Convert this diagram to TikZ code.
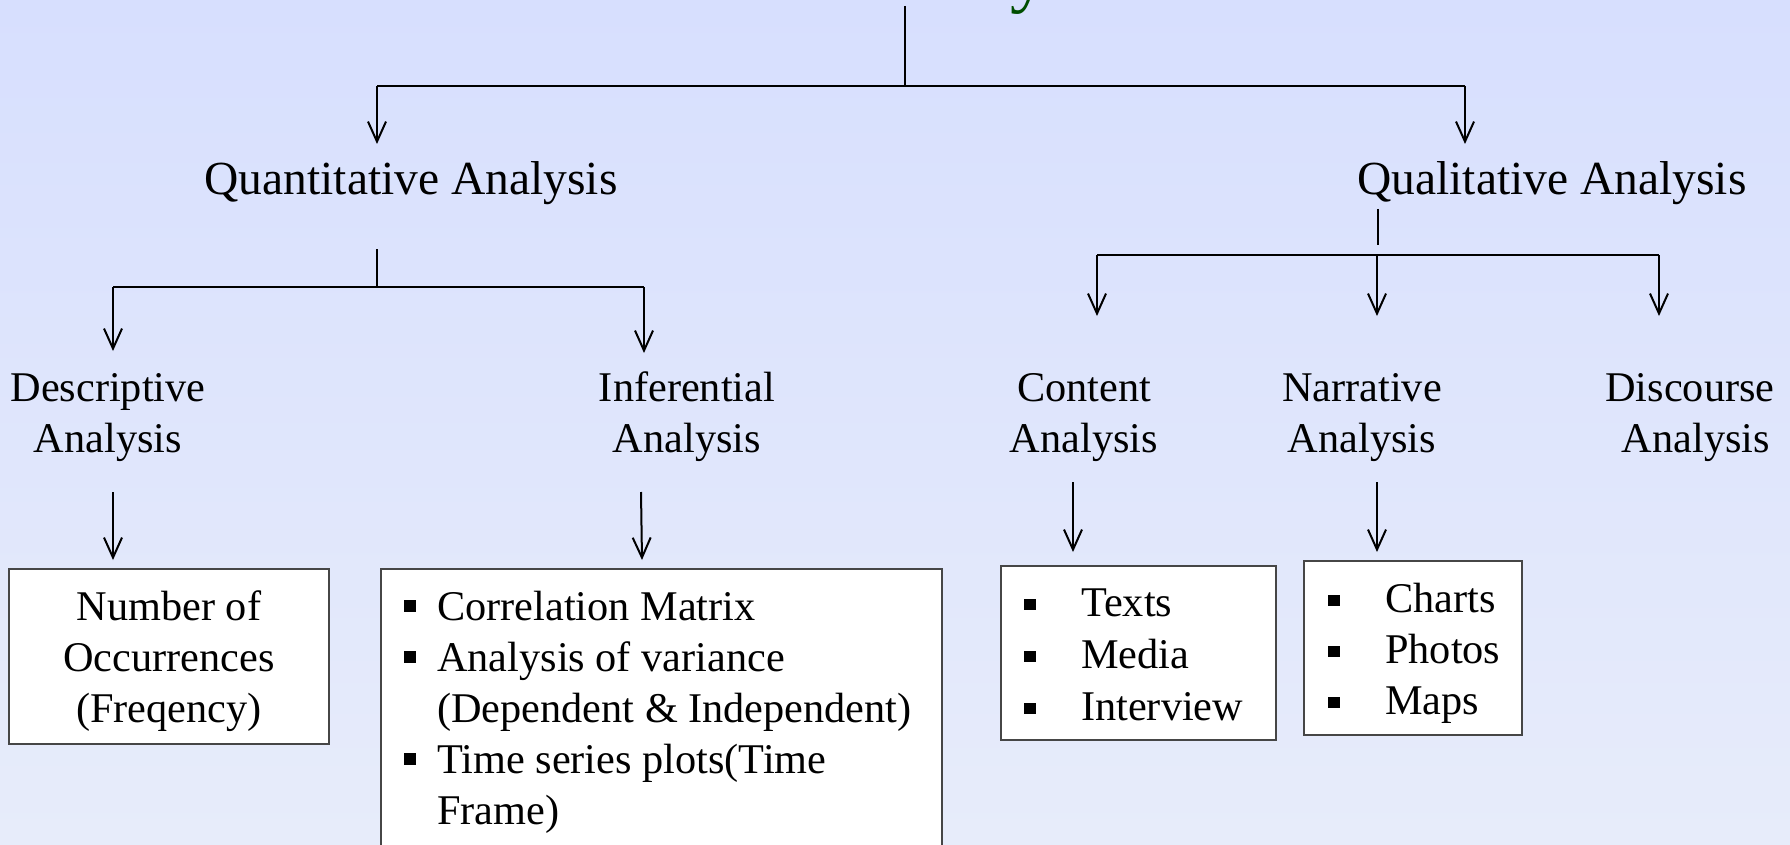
\documentclass[tikz,border=0pt]{standalone}
\usepackage{fontspec}
\setmainfont{Liberation Serif}
\usetikzlibrary{arrows.meta}
\definecolor{bgtop}{RGB}{215,223,254}
\definecolor{bgbot}{RGB}{231,236,250}
\definecolor{ttlgreen}{RGB}{0,78,0}
\definecolor{boxline}{RGB}{70,70,70}
\newcommand{\lbfont}{\fontsize{42.3}{51}\selectfont}
\newcommand{\bigfont}{\fontsize{47.5}{56}\selectfont}
\newcommand{\topstrut}{\rule{0pt}{30pt}}
\newcommand{\bulI}{\makebox[33pt][l]{\rule[8.5pt]{12pt}{12pt}}}
\newcommand{\bulC}{\makebox[57pt][l]{\rule[6pt]{12pt}{11pt}}}
\begin{document}
\begin{tikzpicture}[x=1pt,y=-1pt,
  conn/.style={line width=2pt,draw=black},
  arr/.style={conn,-{Straight Barb[length=20pt,width=18pt,line width=2pt]}},
  lbl/.style={font=\lbfont,align=center,inner sep=0pt,anchor=north},
  big/.style={font=\bigfont,inner sep=0pt,anchor=base},
  listtxt/.style={font=\lbfont,align=left,inner sep=0pt,anchor=north west},
  box/.style={draw=boxline,line width=1.3pt,fill=white,inner sep=0pt}
]
% background
\fill[top color=bgtop,bottom color=bgbot] (0,0) rectangle (1790,845);
\useasboundingbox (0,0) rectangle (1790,845);

% clipped title fragment
\begin{scope}
\clip (0,0) rectangle (1790,845);
\node[font=\fontsize{74}{74}\selectfont,text=ttlgreen,inner sep=0pt,anchor=base] (ttl) at (1029,-1) {y};
\end{scope}

% level 1
\node[big] (quant) at (411,195) {Quantitative Analysis};
\node[big] (qual) at (1552,195) {Qualitative Analysis};

% level 2 labels
\node[lbl] (desc) at (108,371) {\topstrut Descriptive\\Analysis};
\node[lbl] (infer) at (687,371) {\topstrut Inferential\\Analysis};
\node[lbl] (cont) at (1084,371) {\topstrut Content\\Analysis};
\node[lbl] (narr) at (1362,371) {\topstrut Narrative\\Analysis};
\node[lbl] (disc) at (1690,371) {\topstrut Discourse\\\hspace*{12pt}Analysis};

% boxes
\node[box,minimum width=320pt,minimum height=175pt] (nbox) at (169,656.5) {};
\node[box,minimum width=561pt,minimum height=300pt] (ibox) at (661.5,719) {};
\node[box,minimum width=275pt,minimum height=174pt] (cbox) at (1138.5,653) {};
\node[box,minimum width=218pt,minimum height=174pt] (nabox) at (1413,648) {};

% box texts
\node[lbl] (ntext) at (169,590) {\topstrut Number of\\Occurrences\\(Freqency)};
\node[listtxt] (itext) at (404,590) {\topstrut\bulI Correlation Matrix\\
  \bulI Analysis of variance\\
  \hspace*{33pt}(Dependent \& Independent)\\
  \bulI Time series plots(Time\\
  \hspace*{33pt}Frame)};
\node[listtxt,font=\fontsize{42.3}{52}\selectfont] (ctext) at (1024,586) {\topstrut\bulC Texts\\ \bulC Media\\ \bulC Interview};
\node[listtxt,font=\fontsize{42.3}{51}\selectfont] (natext) at (1328,582) {\topstrut\bulC Charts\\ \bulC Photos\\ \bulC Maps};

% junction coordinates
\coordinate (t0) at (905,6);
\coordinate (t1) at (905,86);
\coordinate (tl) at (377,86);
\coordinate (tr) at (1465,86);
\coordinate (tlq) at (377,144);
\coordinate (trq) at (1465,144);

\coordinate (q0) at (377,249);
\coordinate (q1) at (377,287);
\coordinate (ql) at (113,287);
\coordinate (qr) at (644,287);
\coordinate (qla) at (113,351);
\coordinate (qra) at (644,353);

\coordinate (l0) at (1378,209);
\coordinate (l1) at (1378,245);
\coordinate (ll) at (1097,255);
\coordinate (lm) at (1377,255);
\coordinate (lr) at (1659,255);
\coordinate (lla) at (1097,316);
\coordinate (lma) at (1377,316);
\coordinate (lra) at (1659,316);

\coordinate (d0) at (113,492);
\coordinate (i0) at (641,492);
\coordinate (c0) at (1073,482);
\coordinate (n0) at (1377,482);
\coordinate (d1) at (113,560);
\coordinate (i1) at (642,560);
\coordinate (c1) at (1073,552);
\coordinate (n1) at (1377,552);

% connectors
\draw[conn] (t0) -- (t1);
\draw[conn] (tl) -- (tr);
\draw[arr] (tl) -- (tlq);
\draw[arr] (tr) -- (trq);

\draw[conn] (q0) -- (q1);
\draw[conn] (ql) -- (qr);
\draw[arr] (ql) -- (qla);
\draw[arr] (qr) -- (qra);

\draw[conn] (l0) -- (l1);
\draw[conn] (ll) -- (lr);
\draw[arr] (ll) -- (lla);
\draw[arr] (lm) -- (lma);
\draw[arr] (lr) -- (lra);

\draw[arr] (d0) -- (d1);
\draw[arr] (i0) -- (i1);
\draw[arr] (c0) -- (c1);
\draw[arr] (n0) -- (n1);
\end{tikzpicture}
\end{document}
